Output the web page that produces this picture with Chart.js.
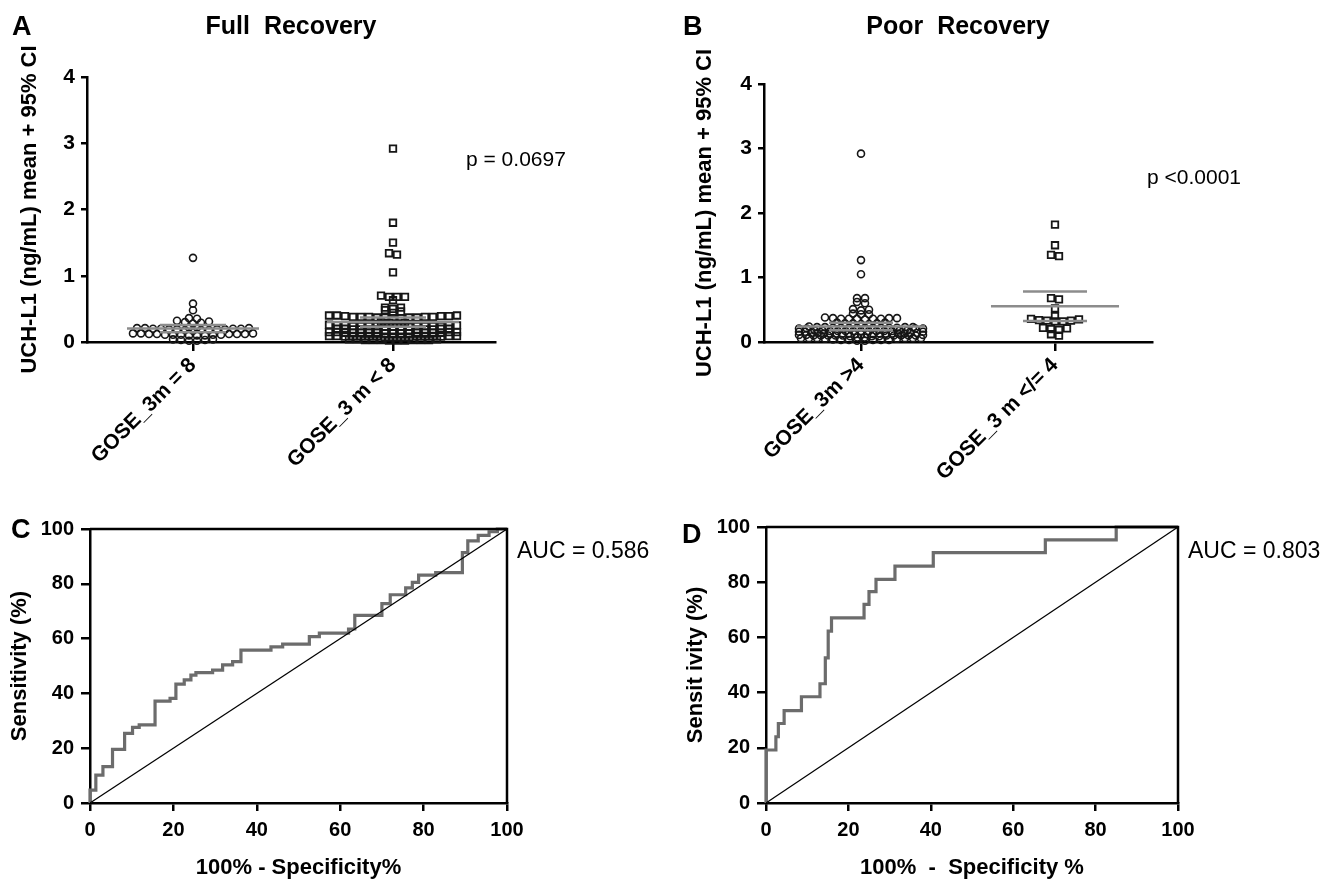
<!DOCTYPE html>
<html>
<head>
<meta charset="utf-8">
<script src="https://cdn.jsdelivr.net/npm/chart.js@4.4.1/dist/chart.umd.min.js"></script>
<style>
html,body{margin:0;padding:0;background:#fff;}
#fig{position:relative;width:1328px;height:881px;overflow:hidden;background:#fff;font-family:'Liberation Sans',Arial,sans-serif;color:#000;}
#fig canvas{position:absolute;}
.lab{position:absolute;line-height:1;white-space:pre;}
.letter{font-weight:bold;font-size:27px;}
.note{font-size:21px;}
.auc{font-size:23px;}
</style>
</head>
<body>
<div id="fig">
  <canvas id="cA" width="660" height="480" style="left:0px;top:0px;"></canvas>
  <canvas id="cB" width="668" height="480" style="left:660px;top:0px;"></canvas>
  <canvas id="cC" width="660" height="441" style="left:0px;top:440px;"></canvas>
  <canvas id="cD" width="668" height="441" style="left:660px;top:440px;"></canvas>
  <div class="lab letter" style="left:12px;top:13px;">A</div>
  <div class="lab letter" style="left:683px;top:13px;">B</div>
  <div class="lab letter" style="left:11px;top:516px;">C</div>
  <div class="lab letter" style="left:682px;top:521px;">D</div>
  <div class="lab note" style="left:466px;top:148px;">p = 0.0697</div>
  <div class="lab note" style="left:1147px;top:166px;">p &lt;0.0001</div>
  <div class="lab auc" style="left:517px;top:539px;">AUC = 0.586</div>
  <div class="lab auc" style="left:1188px;top:539px;">AUC = 0.803</div>
</div>
<script>
// ---------------- DATA ----------------
const catsA = ['GOSE_3m = 8', 'GOSE_3 m < 8'];
const catsB = ['GOSE_3m >4', 'GOSE_3 m </= 4'];
const titleA = 'Full  Recovery';
const titleB = 'Poor  Recovery';
const yTitleAB = 'UCH-L1 (ng/mL) mean + 95% CI';
const uchTicks = [0, 1, 2, 3, 4];
const rocTicks = [0, 20, 40, 60, 80, 100];

// A: GOSE_3m = 8 (full recovery)
const fullYes = [1.27, 0.58, 0.48, 0.36, 0.35, 0.32, 0.31, 0.30, 0.29, 0.28,
  0.22, 0.22, 0.21, 0.21, 0.21, 0.20, 0.20, 0.20, 0.20, 0.19, 0.19, 0.19, 0.19, 0.18, 0.18, 0.18, 0.17,
  0.13, 0.13, 0.13, 0.12, 0.12, 0.12, 0.12, 0.12, 0.11, 0.11, 0.11, 0.11, 0.11, 0.10, 0.10, 0.10,
  0.04, 0.04, 0.03, 0.03, 0.02, 0.02];
// A: GOSE_3 m < 8
const fullNo = [2.92, 1.80, 1.50, 1.34, 1.32, 1.05,
  0.70, 0.68, 0.68, 0.68, 0.63,
  0.52, 0.52, 0.50, 0.48, 0.46, 0.44,
  0.40, 0.40, 0.39, 0.39, 0.38, 0.38, 0.38, 0.37, 0.37, 0.37, 0.37, 0.38, 0.39, 0.36, 0.36, 0.38, 0.40,
  0.30, 0.29, 0.29, 0.28,
  0.25, 0.25, 0.24, 0.24, 0.24, 0.24, 0.23, 0.23, 0.25, 0.24, 0.23, 0.26, 0.24, 0.25, 0.23, 0.24, 0.24,
  0.20, 0.20, 0.19, 0.19, 0.19, 0.18, 0.18, 0.19, 0.20, 0.19, 0.18, 0.19, 0.20, 0.19, 0.18,
  0.15, 0.15, 0.14, 0.14, 0.14, 0.14, 0.13, 0.13, 0.14, 0.15, 0.14, 0.13, 0.14, 0.14, 0.15, 0.13, 0.14,
  0.09, 0.09, 0.08, 0.08, 0.08, 0.08, 0.07, 0.07, 0.08, 0.09, 0.08, 0.07, 0.08, 0.08, 0.09, 0.07, 0.08,
  0.04, 0.04, 0.03, 0.03, 0.03, 0.03, 0.02, 0.02, 0.03, 0.04, 0.03, 0.02];
// B: GOSE_3m > 4
const poorNo = [2.92, 1.27, 1.05,
  0.68, 0.68, 0.62, 0.60,
  0.51, 0.50, 0.49, 0.44, 0.43, 0.43,
  0.38, 0.37, 0.37, 0.36, 0.36, 0.36, 0.36, 0.35, 0.37, 0.36,
  0.30, 0.29, 0.29, 0.28, 0.29, 0.28, 0.30,
  0.23, 0.23, 0.22, 0.22, 0.22, 0.22, 0.21, 0.21, 0.22, 0.23, 0.22, 0.21, 0.22, 0.23, 0.22, 0.21, 0.22, 0.24,
  0.18, 0.17, 0.17, 0.17, 0.16, 0.17, 0.18, 0.17, 0.16, 0.17, 0.18, 0.17, 0.16, 0.17, 0.17, 0.18,
  0.14, 0.13, 0.13, 0.13, 0.12, 0.13, 0.14, 0.13, 0.12, 0.13, 0.13, 0.14, 0.12, 0.13, 0.13, 0.14, 0.13, 0.12,
  0.10, 0.10, 0.09, 0.10, 0.11, 0.10, 0.09, 0.10, 0.10, 0.11, 0.10, 0.09, 0.10, 0.10, 0.11, 0.10,
  0.06, 0.06, 0.05, 0.06, 0.07, 0.06, 0.05, 0.06, 0.06, 0.07,
  0.03, 0.03, 0.02, 0.03, 0.04, 0.03, 0.02, 0.03];
// B: GOSE_3 m </= 4
const poorYes = [1.82, 1.50, 1.35, 1.33, 0.68, 0.66, 0.52, 0.40, 0.36, 0.35, 0.34, 0.33, 0.33,
  0.32, 0.32, 0.22, 0.21, 0.20, 0.19, 0.12, 0.10];

// C: ROC, full recovery (100% - specificity %, sensitivity %)
const rocC_fpr = [0, 0, 1.4, 3.1, 5.4, 8.3, 10.2, 11.8, 15.6, 19.2, 20.6, 22.6, 24.2, 25.4, 29.4, 31.8, 34.2, 36.2,
  43.4, 46.2, 52.6, 55.0, 62.0, 63.5, 70.0, 72.0, 75.7, 77.3, 78.8, 82.9, 89.3, 90.6, 93.1, 95.7, 97.7, 100];
const rocC_tpr = [0, 4.7, 10.2, 13.3, 19.6, 25.4, 27.6, 28.5, 37.2, 38.2, 43.4, 44.9, 46.7, 47.6, 48.5, 50.4, 51.6, 55.8,
  57.0, 58.0, 60.7, 62.0, 63.5, 68.5, 72.8, 76.0, 78.5, 80.5, 83.2, 84.1, 91.4, 95.7, 97.7, 99.0, 100, 100];
// D: ROC, poor recovery
const rocD_fpr = [0, 0, 2.4, 3.0, 4.4, 8.6, 13.1, 14.4, 15.1, 15.9, 23.8, 25.0, 26.7, 31.3, 40.6, 67.8, 85.0, 100];
const rocD_tpr = [0, 19.2, 24.0, 28.8, 33.5, 38.5, 43.2, 52.6, 62.3, 67.1, 72.0, 76.6, 81.0, 85.8, 90.7, 95.3, 100, 100];
const diagX = [0, 100];
const diagY = [0, 100];

// ---------------- LAYOUT ----------------
const FONT = "'Liberation Sans', Arial, sans-serif";
Chart.defaults.color = '#000';
Chart.defaults.font.family = FONT;

const GEO = {
  A: {w: 660, h: 480, L: 87, R: 495, T: 77, B: 342, xmin: 0.47, xmax: 2.51, ymin: 0, ymax: 4},
  B: {w: 668, h: 480, L: 104, R: 492, T: 84, B: 342, xmin: 0.5, xmax: 2.5, ymin: 0, ymax: 4},
  C: {w: 660, h: 441, L: 90, R: 507, T: 89, B: 363},
  D: {w: 668, h: 441, L: 106, R: 518, T: 87, B: 363}
};

// GraphPad-like row layout of points (horizontal spread only)
function rowOffsets(values, pxPerY, dxPx, maxHalf, rowPx) {
  const idx = values.map((v, i) => i).sort((a, b) => values[a] - values[b]);
  const out = new Array(values.length).fill(0);
  const binH = rowPx / pxPerY;
  let start = 0;
  while (start < idx.length) {
    let end = start;
    const v0 = values[idx[start]];
    while (end < idx.length && values[idx[end]] - v0 < binH) end++;
    const n = end - start;
    const s = n > 1 ? Math.min(dxPx, 2 * maxHalf / (n - 1)) : 0;
    for (let k = 0; k < n; k++) {
      let pos;
      if (n % 2 === 1) { pos = k === 0 ? 0 : (k % 2 === 1 ? 1 : -1) * Math.ceil(k / 2); }
      else { pos = (k % 2 === 0 ? 1 : -1) * (Math.floor(k / 2) + 0.5); }
      out[idx[start + k]] = pos * s;
    }
    start = end;
  }
  return out;
}

function meanCI(v) {
  const n = v.length;
  const m = v.reduce((a, b) => a + b, 0) / n;
  const sd = Math.sqrt(v.reduce((a, b) => a + (b - m) * (b - m), 0) / (n - 1));
  const t = 1.96 + 2.5 / (n - 1);
  const h = t * sd / Math.sqrt(n);
  return {m, lo: m - h, hi: m + h};
}

function pointsDataset(values, cat, g, shape, radius, maxHalf, bw) {
  const pxPerX = (g.R - g.L) / (g.xmax - g.xmin);
  const pxPerY = (g.B - g.T) / (g.ymax - g.ymin);
  const off = rowOffsets(values, pxPerY, 8, maxHalf, 3);
  return {
    type: 'scatter',
    data: values.map((v, i) => ({x: cat + off[i] / pxPerX, y: v})),
    pointStyle: shape, pointRadius: radius, pointHoverRadius: radius,
    borderColor: '#161616', backgroundColor: 'rgba(255,255,255,0)', borderWidth: bw,
    clip: false, order: 2
  };
}

function statDatasets(values, cat) {
  const s = meanCI(values);
  const mk = (y, half) => ({
    type: 'line', data: [{x: cat - half, y}, {x: cat + half, y}],
    borderColor: '#8c8c8c', borderWidth: 2.5, pointRadius: 0, clip: false, order: 1
  });
  return [mk(s.m, 0.33), mk(s.lo, 0.165), mk(s.hi, 0.165)];
}

const axisLine = {display: true, color: '#000', width: 2.5};
function tickGrid(len) {
  return {display: true, drawOnChartArea: false, drawTicks: true, tickLength: len, color: '#000', lineWidth: 2.5};
}

function dotChart(id, g, cats, title, groupVals, shapes, radii, halves, yTitlePad) {
  const ds = [];
  groupVals.forEach((vals, i) => {
    ds.push(...statDatasets(vals, i + 1));
    ds.push(pointsDataset(vals, i + 1, g, shapes[i], radii[i], halves[i], shapes[i] === 'rect' ? 1.8 : 1.6));
  });
  return new Chart(document.getElementById(id), {
    type: 'scatter',
    data: {datasets: ds},
    options: {
      responsive: false, animation: false, devicePixelRatio: 1,
      layout: {padding: {left: 0, right: g.w - g.R, top: 0, bottom: 0}},
      plugins: {
        legend: {display: false}, tooltip: {enabled: false},
        title: {display: true, text: title, fullSize: false, color: '#000',
          font: {family: FONT, size: 25, weight: 'bold'}, padding: {top: 12, bottom: g.T - 12 - 30}}
      },
      scales: {
        x: {
          type: 'linear', min: g.xmin, max: g.xmax,
          afterBuildTicks: s => { s.ticks = cats.map((c, i) => ({value: i + 1})); },
          afterFit: s => { s.height = g.h - g.B; },
          ticks: {autoSkip: false, minRotation: 45, maxRotation: 45, padding: 2, color: '#000',
            font: {family: FONT, size: 21, weight: 'bold'},
            callback: v => cats[Math.round(v) - 1]},
          grid: tickGrid(9), border: axisLine
        },
        y: {
          min: g.ymin, max: g.ymax,
          afterBuildTicks: s => { s.ticks = uchTicks.map(v => ({value: v})); },
          afterFit: s => { s.width = g.L; },
          ticks: {padding: 6, color: '#000', font: {family: FONT, size: 21, weight: 'bold'}},
          grid: tickGrid(6), border: axisLine,
          title: {display: true, text: yTitleAB, color: '#000', font: {family: FONT, size: 22, weight: 'bold'},
            padding: {top: yTitlePad, bottom: 0}}
        }
      }
    }
  });
}

const framePlugin = {
  id: 'frame',
  afterDatasetsDraw(chart) {
    const {ctx, chartArea: a} = chart;
    ctx.save();
    ctx.strokeStyle = '#000'; ctx.lineWidth = 2.5;
    ctx.beginPath();
    ctx.moveTo(a.left, a.top); ctx.lineTo(a.right, a.top); ctx.lineTo(a.right, a.bottom);
    ctx.stroke();
    ctx.restore();
  }
};

function rocChart(id, g, fpr, tpr, yTitle, xTitle, yTitlePad) {
  return new Chart(document.getElementById(id), {
    type: 'scatter',
    data: {datasets: [
      {type: 'line', data: diagX.map((x, i) => ({x, y: diagY[i]})), borderColor: '#000', borderWidth: 1.2,
        pointRadius: 0, order: 0},
      {type: 'line', data: fpr.map((x, i) => ({x, y: tpr[i]})), stepped: 'before', borderColor: '#6c6c6c',
        borderWidth: 3.2, pointRadius: 0, fill: false, order: 1, clip: 2}
    ]},
    options: {
      responsive: false, animation: false, devicePixelRatio: 1,
      layout: {padding: {left: 0, right: g.w - g.R, top: g.T, bottom: 0}},
      plugins: {legend: {display: false}, tooltip: {enabled: false}},
      scales: {
        x: {
          type: 'linear', min: 0, max: 100,
          afterBuildTicks: s => { s.ticks = rocTicks.map(v => ({value: v})); },
          afterFit: s => { s.height = g.h - g.B; },
          ticks: {padding: 7, maxRotation: 0, color: '#000', font: {family: FONT, size: 20, weight: 'bold'}},
          grid: tickGrid(8), border: axisLine,
          title: {display: true, text: xTitle, color: '#000', font: {family: FONT, size: 22, weight: 'bold'},
            padding: {top: 0, bottom: 0}}
        },
        y: {
          min: 0, max: 100,
          afterBuildTicks: s => { s.ticks = rocTicks.map(v => ({value: v})); },
          afterFit: s => { s.width = g.L; },
          ticks: {padding: 7, color: '#000', font: {family: FONT, size: 20, weight: 'bold'}},
          grid: tickGrid(9), border: axisLine,
          title: {display: true, text: yTitle, color: '#000', font: {family: FONT, size: 22, weight: 'bold'},
            padding: {top: yTitlePad, bottom: 0}}
        }
      }
    },
    plugins: [framePlugin]
  });
}

dotChart('cA', GEO.A, catsA, titleA, [fullYes, fullNo], ['circle', 'rect'], [3.5, 4.6], [66, 66], 17);
dotChart('cB', GEO.B, catsB, titleB, [poorNo, poorYes], ['circle', 'rect'], [3.5, 4.6], [62, 40], 32);
rocChart('cC', GEO.C, rocC_fpr, rocC_tpr, 'Sensitivity (%)', '100% - Specificity%', 7);
rocChart('cD', GEO.D, rocD_fpr, rocD_tpr, 'Sensit ivity (%)', '100%  -  Specificity %', 23);
</script>
</body>
</html>
